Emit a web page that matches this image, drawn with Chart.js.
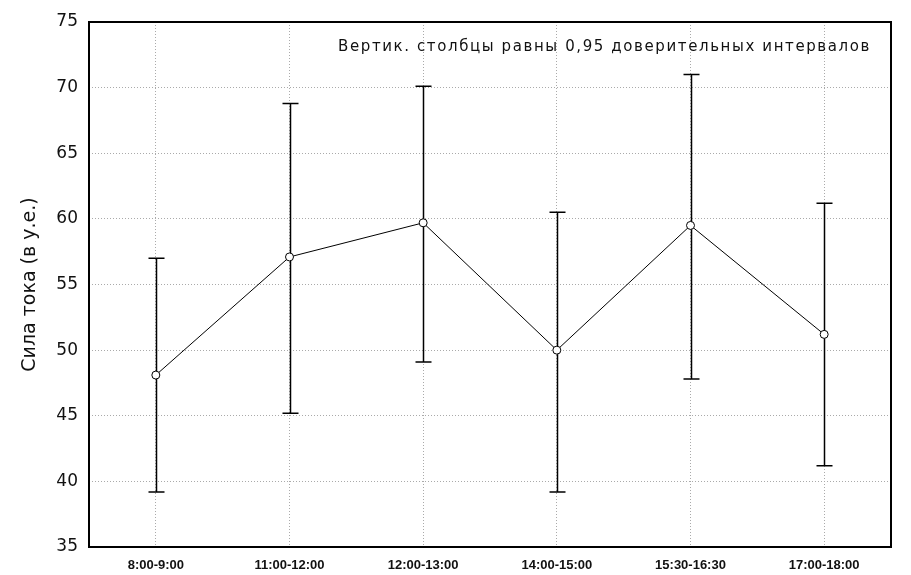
<!DOCTYPE html>
<html>
<head>
<meta charset="utf-8">
<script src="https://cdn.jsdelivr.net/npm/chart.js@4/dist/chart.umd.min.js"></script>
<style>
  html, body { margin: 0; padding: 0; background: #fff; }
  #wrap { width: 911px; height: 575px; }
</style>
</head>
<body>
<div id="wrap"><canvas id="chart" width="911" height="575"></canvas></div>
<script>
// интервалы времени
const labels = ['8:00-9:00', '11:00-12:00', '12:00-13:00', '14:00-15:00', '15:30-16:30', '17:00-18:00'];
// средние значения силы тока
const means = [48.1, 57.1, 59.7, 50.0, 59.5, 51.2];
// границы 0,95 доверительных интервалов
const upper = [57.0, 68.8, 70.1, 60.5, 71.0, 61.2];
const lower = [39.2, 45.2, 49.1, 39.2, 47.8, 41.2];
const yTicks = [35, 40, 45, 50, 55, 60, 65, 70, 75];
const note = 'Вертик. столбцы равны 0,95 доверительных интервалов';

// рамка, усы и подпись
const errorBars = {
  id: 'errorBars',
  beforeDatasetsDraw(chart) {
    const ctx = chart.ctx;
    const xs = chart.scales.x, ys = chart.scales.y;
    ctx.save();
    ctx.strokeStyle = '#000';
    ctx.lineWidth = 1.5;
    for (let i = 0; i < means.length; i++) {
      const x = Math.round(xs.getPixelForValue(i)) + 0.5;
      const yt = ys.getPixelForValue(upper[i]);
      const yb = ys.getPixelForValue(lower[i]);
      ctx.beginPath();
      ctx.moveTo(x, yt); ctx.lineTo(x, yb);
      ctx.moveTo(x - 8, yt); ctx.lineTo(x + 8, yt);
      ctx.moveTo(x - 8, yb); ctx.lineTo(x + 8, yb);
      ctx.stroke();
    }
    ctx.restore();
  },
  afterDraw(chart) {
    const ctx = chart.ctx;
    const a = chart.chartArea;
    ctx.save();
    ctx.strokeStyle = '#000';
    ctx.lineWidth = 2;
    ctx.strokeRect(a.left, a.top, a.right - a.left, a.bottom - a.top);
    ctx.fillStyle = '#111';
    ctx.font = '15px "DejaVu Sans"';
    ctx.letterSpacing = '1.6px';
    ctx.textAlign = 'right';
    ctx.textBaseline = 'middle';
    ctx.fillText(note, a.right - 20, a.top + 25);
    ctx.restore();
  }
};

const ctx = document.getElementById('chart').getContext('2d');
new Chart(ctx, {
  type: 'line',
  data: {
    labels: labels,
    datasets: [{
      data: means,
      borderColor: '#000',
      borderWidth: 1,
      pointRadius: 4,
      pointBackgroundColor: '#fff',
      pointBorderColor: '#000',
      pointBorderWidth: 1,
      tension: 0
    }]
  },
  options: {
    responsive: false,
    animation: false,
    layout: { padding: { top: 22, right: 20, left: 0, bottom: 0 } },
    plugins: { legend: { display: false }, tooltip: { enabled: false } },
    scales: {
      x: {
        offset: true,
        grid: { color: '#aaa', drawTicks: false, offset: false },
        border: { display: false, dash: [1, 2] },
        ticks: { color: '#111', font: { family: 'Liberation Sans', size: 13, weight: 'bold' }, padding: 11, maxRotation: 0 },
        afterFit(s) { s.height = 28; }
      },
      y: {
        min: 35, max: 75,
        afterBuildTicks(s) { s.ticks = yTicks.map(v => ({ value: v })); },
        grid: { color: '#aaa', drawTicks: false },
        border: { display: false, dash: [1, 2] },
        ticks: { color: '#111', font: { family: 'DejaVu Sans', size: 17 }, padding: 11 },
        title: { display: true, text: 'Сила тока (в у.е.)', color: '#111', font: { family: 'DejaVu Sans', size: 19 }, padding: { top: 19, bottom: 0 } },
        afterFit(s) { s.width = 89; }
      }
    }
  },
  plugins: [errorBars]
});
</script>
</body>
</html>
